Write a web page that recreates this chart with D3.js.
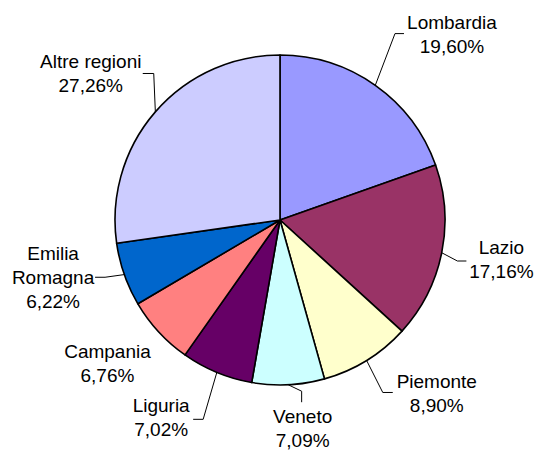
<!DOCTYPE html>
<html>
<head>
<meta charset="utf-8">
<script src="https://cdn.jsdelivr.net/npm/d3@7"></script>
<style>
  body { margin: 0; background: #fff; }
  text { font-family: "Liberation Sans", Arial, sans-serif; font-size: 19px; fill: #000; }
</style>
</head>
<body>
<div id="pie_chart"></div>
<script>
// values (share of total, %)
const regions = ["Lombardia", "Lazio", "Piemonte", "Veneto", "Liguria", "Campania", "Emilia Romagna", "Altre regioni"]
const shares = [19.60, 17.16, 8.90, 7.09, 7.02, 6.76, 6.22, 27.26]
const sliceColors = ["#9999FF", "#993366", "#FFFFCC", "#CCFFFF", "#660066", "#FF8080", "#0066CC", "#CCCCFF"]

// names that wrap onto two lines
const wrapped = ["Emilia Romagna"]

// label placement: nudge from the default spot, leader attach point (from label centre), elbow (from attach)
const labelLayout = {
    "Lombardia":      { nudge: [38, 10],  attach: [-48, -7],    elbow: [-9, 0] },
    "Lazio":          { nudge: [-6, 0],   attach: [-35, -5],    elbow: [-9, 0] },
    "Piemonte":       { nudge: [35, -17], attach: [-44, -8],    elbow: [-10, 0] },
    "Veneto":         { nudge: [11, -17], attach: [-1, -32.5],  elbow: [0, -11] },
    "Liguria":        { nudge: [-30, -10], attach: [32, -5],    elbow: [10, 0] },
    "Campania":       { nudge: [-2, -7],  attach: null,         elbow: null },
    "Emilia Romagna": { nudge: [-8, -13], attach: [42, -6.5],   elbow: [10, 0] },
    "Altre regioni":  { nudge: [-14, 12], attach: [52, -6.5],   elbow: [11, 0] }
}

const width = 535, height = 451
const cx = 280, cy = 220
const radius = 165
const labelRadius = 232
const lineHeight = 24

const data = regions.map((r, i) => ({ region: r, share: shares[i], color: sliceColors[i] }))

const it = d3.formatLocale({ decimal: ",", thousands: ".", grouping: [3], currency: ["€", ""] })
const fmt = it.format(".2f")

const svg = d3.select("#pie_chart")
    .append("svg")
    .attr("width", width)
    .attr("height", height)

const g = svg.append("g")
    .attr("transform", "translate(" + cx + "," + cy + ")")

const pie = d3.pie().value(d => d.share).sort(null)
const arcs = pie(data)

const pathArc = d3.arc().innerRadius(0).outerRadius(radius)

g.selectAll("path.slice")
    .data(arcs)
    .join("path")
    .attr("class", "slice")
    .attr("d", pathArc)
    .attr("fill", d => d.data.color)
    .attr("stroke", "#000")
    .attr("stroke-width", 1.6)
    .attr("stroke-linejoin", "round")

const polar = (a, r) => [r * Math.sin(a), -r * Math.cos(a)]
const mid = d => (d.startAngle + d.endAngle) / 2

// leader lines
arcs.forEach(d => {
    const lay = labelLayout[d.data.region]
    if (!lay.attach) return
    const base = polar(mid(d), labelRadius)
    const lc = [base[0] + lay.nudge[0], base[1] + lay.nudge[1]]
    const attach = [lc[0] + lay.attach[0], lc[1] + lay.attach[1]]
    const elbow = [attach[0] + lay.elbow[0], attach[1] + lay.elbow[1]]
    const start = polar(mid(d), radius)
    g.append("path")
        .attr("d", d3.line()([start, elbow, attach]))
        .attr("fill", "none")
        .attr("stroke", "#000")
        .attr("stroke-width", 1)
})

// labels
g.selectAll("text.label")
    .data(arcs)
    .join("text")
    .attr("class", "label")
    .attr("text-anchor", "middle")
    .each(function (d) {
        const lay = labelLayout[d.data.region]
        const base = polar(mid(d), labelRadius)
        const x = base[0] + lay.nudge[0], y = base[1] + lay.nudge[1]
        const lines = (wrapped.includes(d.data.region) ? d.data.region.split(" ") : [d.data.region])
            .concat([fmt(d.data.share) + "%"])
        const y0 = y - (lines.length - 1) * lineHeight / 2
        d3.select(this).selectAll("tspan")
            .data(lines)
            .join("tspan")
            .attr("x", x)
            .attr("y", (l, i) => y0 + i * lineHeight)
            .text(l => l)
    })
</script>
</body>
</html>
